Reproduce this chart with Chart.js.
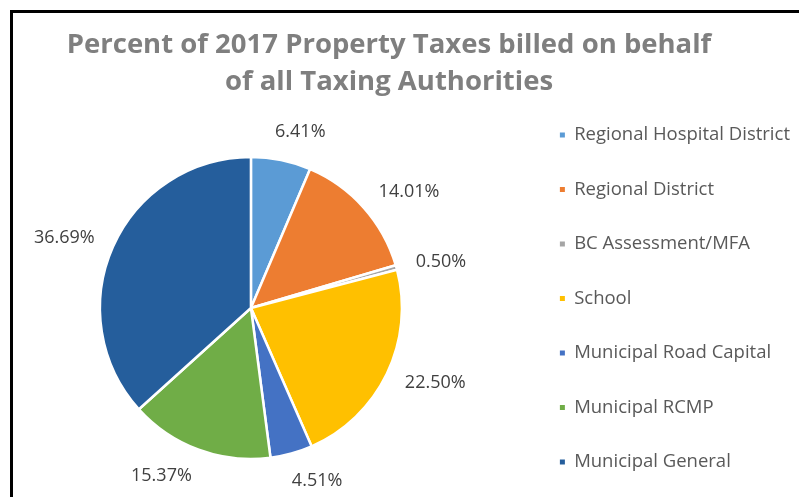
<!DOCTYPE html>
<html>
<head>
<meta charset="utf-8">
<title>Percent of 2017 Property Taxes</title>
<script src="https://cdn.jsdelivr.net/npm/chart.js@4.4.1/dist/chart.umd.min.js"></script>
<style>
  html, body { margin: 0; padding: 0; background: #ffffff; overflow: hidden; }
  body { width: 799px; height: 497px; position: relative; }
  #chart { position: absolute; left: -22px; top: 0; }
  #frame {
    position: absolute; left: 10px; top: 10px; width: 800px; height: 500px;
    border-left: 3px solid #000; border-top: 3px solid #000;
    pointer-events: none;
  }
</style>
</head>
<body>
<canvas id="chart" width="830" height="597"></canvas>
<div id="frame"></div>
<script>
// Taxing authorities and their share of the 2017 property tax levy (%)
const categories = [
  'Regional Hospital District',
  'Regional District',
  'BC Assessment/MFA',
  'School',
  'Municipal Road Capital',
  'Municipal RCMP',
  'Municipal General'
];
const shares = [6.41, 14.01, 0.50, 22.50, 4.51, 15.37, 36.69];
const titleLines = [
  'Percent of 2017 Property Taxes billed on behalf',
  'of all Taxing Authorities'
];
const sliceColors = ['#5b9bd5', '#ed7d31', '#a5a5a5', '#ffc000', '#4472c4', '#70ad47', '#255e9c'];

// Percentage labels placed just outside each slice
const outsideLabels = {
  id: 'outsideLabels',
  afterDatasetsDraw(chart) {
    const ctx = chart.ctx;
    const meta = chart.getDatasetMeta(0);
    const data = chart.data.datasets[0].data;
    ctx.save();
    ctx.font = '18px "Open Sans", sans-serif';
    ctx.fillStyle = '#404040';
    ctx.textAlign = 'center';
    ctx.textBaseline = 'middle';
    const clamp = v => Math.max(-1, Math.min(1, v));
    meta.data.forEach((arc, i) => {
      const p = arc.getProps(['x', 'y', 'startAngle', 'endAngle', 'outerRadius'], true);
      const mid = (p.startAngle + p.endAngle) / 2;
      const c = Math.cos(mid), s = Math.sin(mid);
      const text = data[i].toFixed(2) + '%';
      const w = ctx.measureText(text).width;
      const h = 18;
      const rr = p.outerRadius + 20;
      const lx = p.x + rr * c + (w / 2) * clamp(3 * c);
      const ly = p.y + rr * s + (h / 2) * s * s * s;
      ctx.fillText(text, lx, ly);
    });
    ctx.restore();
  }
};

function draw() {
  new Chart(document.getElementById('chart'), {
    type: 'pie',
    data: {
      labels: categories,
      datasets: [{
        data: shares,
        backgroundColor: sliceColors,
        borderColor: '#ffffff',
        borderWidth: 2.5,
        radius: 151
      }]
    },
    options: {
      responsive: false,
      animation: false,
      devicePixelRatio: 1,
      layout: { padding: { left: 0, right: 8, top: 0, bottom: 0 } },
      plugins: {
        tooltip: { enabled: false },
        title: {
          display: true,
          text: titleLines,
          color: '#7f7f7f',
          font: { family: '"Open Sans", sans-serif', size: 27.5, weight: 'bold', lineHeight: 1.35 },
          padding: { top: 26.4, bottom: -81.6 }
        },
        legend: {
          position: 'right',
          align: 'center',
          labels: {
            color: '#595959',
            font: { family: '"Open Sans", sans-serif', size: 18.5 },
            boxWidth: 5,
            boxHeight: 5,
            padding: 36,
            generateLabels(chart) {
              const base = Chart.overrides.pie.plugins.legend.labels.generateLabels(chart);
              return base.map(item => Object.assign(item, { lineWidth: 0, strokeStyle: 'rgba(0,0,0,0)' }));
            }
          }
        }
      }
    },
    plugins: [outsideLabels]
  });
}

Promise.all([
  document.fonts.load('18px "Open Sans"'),
  document.fonts.load('bold 27px "Open Sans"')
]).then(draw, draw);
</script>
</body>
</html>
